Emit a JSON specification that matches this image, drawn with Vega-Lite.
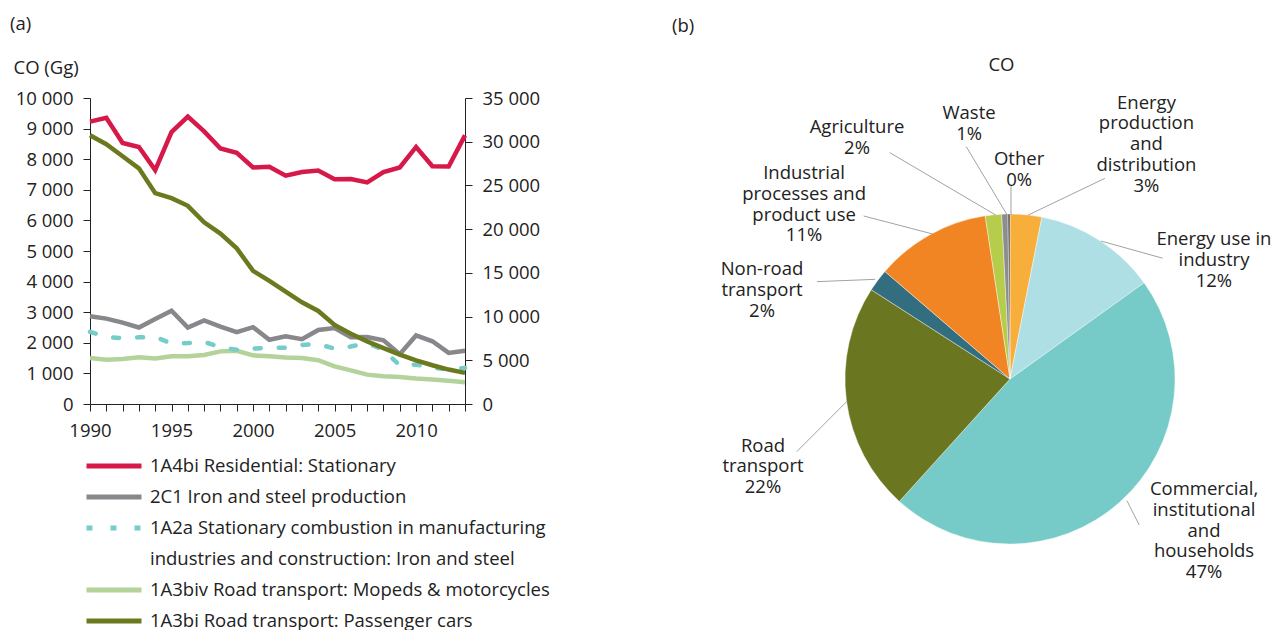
{
  "$schema": "https://vega.github.io/schema/vega-lite/v6.json",
  "background": "white",
  "padding": {"left": 10, "top": 14, "right": 0, "bottom": 0},
  "config": {
    "view": {"stroke": null},
    "font": "Open Sans",
    "axis": {"labelFont": "Open Sans", "labelFontSize": 18.5, "labelColor": "#222", "domainColor": "#222", "tickColor": "#222", "grid": false, "labelFlush": false, "labelOverlap": false, "tickSize": 7, "domainWidth": 1, "tickWidth": 1},
    "title": {"font": "Open Sans", "fontSize": 18.5, "fontWeight": "normal", "color": "#222"},
    "text": {"font": "Open Sans", "fontSize": 18.5, "color": "#222"}
  },
  "bounds": "flush",
  "spacing": 235,
  "resolve": {"scale": {"color": "independent"}, "legend": {"color": "independent"}},
  "hconcat": [
    {
      "width": 375,
      "height": 306,
      "title": {"text": "(a)", "anchor": "start", "frame": "group", "dx": -80, "offset": 25},
      "data": {"values": [
        {"year": 1990, "1A4bi Residential: Stationary": 32300, "2C1 Iron and steel production": 2870, "1A2a Stationary combustion in manufacturing industries and construction: Iron and steel": 2360, "1A3biv Road transport: Mopeds & motorcycles": 1500, "1A3bi Road transport: Passenger cars": 30730},
        {"year": 1991, "1A4bi Residential: Stationary": 32730, "2C1 Iron and steel production": 2790, "1A2a Stationary combustion in manufacturing industries and construction: Iron and steel": 2190, "1A3biv Road transport: Mopeds & motorcycles": 1450, "1A3bi Road transport: Passenger cars": 29710},
        {"year": 1992, "1A4bi Residential: Stationary": 29860, "2C1 Iron and steel production": 2660, "1A2a Stationary combustion in manufacturing industries and construction: Iron and steel": 2150, "1A3biv Road transport: Mopeds & motorcycles": 1470, "1A3bi Road transport: Passenger cars": 28340},
        {"year": 1993, "1A4bi Residential: Stationary": 29400, "2C1 Iron and steel production": 2500, "1A2a Stationary combustion in manufacturing industries and construction: Iron and steel": 2180, "1A3biv Road transport: Mopeds & motorcycles": 1530, "1A3bi Road transport: Passenger cars": 26950},
        {"year": 1994, "1A4bi Residential: Stationary": 26750, "2C1 Iron and steel production": 2780, "1A2a Stationary combustion in manufacturing industries and construction: Iron and steel": 2190, "1A3biv Road transport: Mopeds & motorcycles": 1490, "1A3bi Road transport: Passenger cars": 24110},
        {"year": 1995, "1A4bi Residential: Stationary": 31100, "2C1 Iron and steel production": 3050, "1A2a Stationary combustion in manufacturing industries and construction: Iron and steel": 1980, "1A3biv Road transport: Mopeds & motorcycles": 1560, "1A3bi Road transport: Passenger cars": 23540},
        {"year": 1996, "1A4bi Residential: Stationary": 32880, "2C1 Iron and steel production": 2500, "1A2a Stationary combustion in manufacturing industries and construction: Iron and steel": 1990, "1A3biv Road transport: Mopeds & motorcycles": 1560, "1A3bi Road transport: Passenger cars": 22670},
        {"year": 1997, "1A4bi Residential: Stationary": 31180, "2C1 Iron and steel production": 2730, "1A2a Stationary combustion in manufacturing industries and construction: Iron and steel": 2030, "1A3biv Road transport: Mopeds & motorcycles": 1600, "1A3bi Road transport: Passenger cars": 20780},
        {"year": 1998, "1A4bi Residential: Stationary": 29220, "2C1 Iron and steel production": 2530, "1A2a Stationary combustion in manufacturing industries and construction: Iron and steel": 1860, "1A3biv Road transport: Mopeds & motorcycles": 1720, "1A3bi Road transport: Passenger cars": 19490},
        {"year": 1999, "1A4bi Residential: Stationary": 28720, "2C1 Iron and steel production": 2350, "1A2a Stationary combustion in manufacturing industries and construction: Iron and steel": 1770, "1A3biv Road transport: Mopeds & motorcycles": 1740, "1A3bi Road transport: Passenger cars": 17800},
        {"year": 2000, "1A4bi Residential: Stationary": 27060, "2C1 Iron and steel production": 2510, "1A2a Stationary combustion in manufacturing industries and construction: Iron and steel": 1810, "1A3biv Road transport: Mopeds & motorcycles": 1590, "1A3bi Road transport: Passenger cars": 15230},
        {"year": 2001, "1A4bi Residential: Stationary": 27130, "2C1 Iron and steel production": 2100, "1A2a Stationary combustion in manufacturing industries and construction: Iron and steel": 1840, "1A3biv Road transport: Mopeds & motorcycles": 1560, "1A3bi Road transport: Passenger cars": 14090},
        {"year": 2002, "1A4bi Residential: Stationary": 26110, "2C1 Iron and steel production": 2210, "1A2a Stationary combustion in manufacturing industries and construction: Iron and steel": 1840, "1A3biv Road transport: Mopeds & motorcycles": 1520, "1A3bi Road transport: Passenger cars": 12840},
        {"year": 2003, "1A4bi Residential: Stationary": 26530, "2C1 Iron and steel production": 2120, "1A2a Stationary combustion in manufacturing industries and construction: Iron and steel": 1930, "1A3biv Road transport: Mopeds & motorcycles": 1500, "1A3bi Road transport: Passenger cars": 11630},
        {"year": 2004, "1A4bi Residential: Stationary": 26710, "2C1 Iron and steel production": 2420, "1A2a Stationary combustion in manufacturing industries and construction: Iron and steel": 1960, "1A3biv Road transport: Mopeds & motorcycles": 1430, "1A3bi Road transport: Passenger cars": 10640},
        {"year": 2005, "1A4bi Residential: Stationary": 25700, "2C1 Iron and steel production": 2480, "1A2a Stationary combustion in manufacturing industries and construction: Iron and steel": 1810, "1A3biv Road transport: Mopeds & motorcycles": 1230, "1A3bi Road transport: Passenger cars": 9050},
        {"year": 2006, "1A4bi Residential: Stationary": 25730, "2C1 Iron and steel production": 2180, "1A2a Stationary combustion in manufacturing industries and construction: Iron and steel": 1880, "1A3biv Road transport: Mopeds & motorcycles": 1100, "1A3bi Road transport: Passenger cars": 8030},
        {"year": 2007, "1A4bi Residential: Stationary": 25350, "2C1 Iron and steel production": 2190, "1A2a Stationary combustion in manufacturing industries and construction: Iron and steel": 1990, "1A3biv Road transport: Mopeds & motorcycles": 960, "1A3bi Road transport: Passenger cars": 7160},
        {"year": 2008, "1A4bi Residential: Stationary": 26530, "2C1 Iron and steel production": 2080, "1A2a Stationary combustion in manufacturing industries and construction: Iron and steel": 1770, "1A3biv Road transport: Mopeds & motorcycles": 910, "1A3bi Road transport: Passenger cars": 6400},
        {"year": 2009, "1A4bi Residential: Stationary": 27060, "2C1 Iron and steel production": 1630, "1A2a Stationary combustion in manufacturing industries and construction: Iron and steel": 1260, "1A3biv Road transport: Mopeds & motorcycles": 880, "1A3bi Road transport: Passenger cars": 5640},
        {"year": 2010, "1A4bi Residential: Stationary": 29400, "2C1 Iron and steel production": 2240, "1A2a Stationary combustion in manufacturing industries and construction: Iron and steel": 1290, "1A3biv Road transport: Mopeds & motorcycles": 830, "1A3bi Road transport: Passenger cars": 5000},
        {"year": 2011, "1A4bi Residential: Stationary": 27200, "2C1 Iron and steel production": 2050, "1A2a Stationary combustion in manufacturing industries and construction: Iron and steel": 1180, "1A3biv Road transport: Mopeds & motorcycles": 800, "1A3bi Road transport: Passenger cars": 4430},
        {"year": 2012, "1A4bi Residential: Stationary": 27170, "2C1 Iron and steel production": 1670, "1A2a Stationary combustion in manufacturing industries and construction: Iron and steel": 1130, "1A3biv Road transport: Mopeds & motorcycles": 760, "1A3bi Road transport: Passenger cars": 3940},
        {"year": 2013, "1A4bi Residential: Stationary": 30730, "2C1 Iron and steel production": 1740, "1A2a Stationary combustion in manufacturing industries and construction: Iron and steel": 1180, "1A3biv Road transport: Mopeds & motorcycles": 710, "1A3bi Road transport: Passenger cars": 3560}
      ]},
      "transform": [
        {"fold": ["1A4bi Residential: Stationary", "2C1 Iron and steel production", "1A2a Stationary combustion in manufacturing industries and construction: Iron and steel", "1A3biv Road transport: Mopeds & motorcycles", "1A3bi Road transport: Passenger cars"], "as": ["series", "value"]}
      ],
      "encoding": {
        "x": {"field": "year", "type": "quantitative",
              "scale": {"domain": [1990, 2013], "nice": false, "zero": false},
              "axis": {"title": null, "values": [1990,1991,1992,1993,1994,1995,1996,1997,1998,1999,2000,2001,2002,2003,2004,2005,2006,2007,2008,2009,2010,2011,2012,2013],
                       "labelExpr": "datum.value % 5 === 0 ? format(datum.value, 'd') : ''", "labelPadding": 10}},
        "color": {"field": "series", "type": "nominal",
                  "scale": {"domain": ["1A4bi Residential: Stationary", "2C1 Iron and steel production", "1A2a Stationary combustion in manufacturing industries and construction: Iron and steel", "1A3biv Road transport: Mopeds & motorcycles", "1A3bi Road transport: Passenger cars"],
                            "range": ["#D7194A", "#87878C", "#76CCC8", "#B3D39A", "#6B7A1F"]},
                  "legend": {"title": null, "orient": "none", "legendX": -6, "legendY": 358, "direction": "vertical", "clipHeight": 20,
                             "values": ["1A4bi Residential: Stationary", "2C1 Iron and steel production", "1A2a Stationary combustion in manufacturing industries and construction: Iron and steel", "industries and construction: Iron and steel", "1A3biv Road transport: Mopeds & motorcycles", "1A3bi Road transport: Passenger cars"],
                             "symbolType": "stroke", "symbolSize": 3025, "symbolStrokeWidth": 5,
                             "labelFont": "Open Sans", "labelFontSize": 18.5, "labelColor": "#222", "labelOffset": 6, "rowPadding": 11, "labelLimit": 0,
                             "labelExpr": "datum.label == '1A2a Stationary combustion in manufacturing industries and construction: Iron and steel' ? '1A2a Stationary combustion in manufacturing' : datum.label",
                             "encode": {"symbols": {"update": {
                               "strokeDash": {"signal": "datum.value == '1A2a Stationary combustion in manufacturing industries and construction: Iron and steel' ? [6, 18] : [1, 0]"},
                               "opacity": {"signal": "datum.value == 'industries and construction: Iron and steel' ? 0 : 1"}}}}}}
      },
      "layer": [
        {
          "encoding": {
            "y": {"field": "value", "type": "quantitative",
                  "scale": {"domain": [0, 10000], "nice": false},
                  "axis": {"orient": "left", "title": "CO (Gg)", "titleAngle": 0, "titleAlign": "left", "titleBaseline": "middle", "titleX": -77, "titleY": -31,
                           "titleFont": "Open Sans", "titleFontSize": 18.5, "titleFontWeight": "normal", "titleColor": "#222",
                           "values": [0,1000,2000,3000,4000,5000,6000,7000,8000,9000,10000],
                           "labelExpr": "replace(format(datum.value, ','), ',', ' ')", "labelPadding": 10}}
          },
          "layer": [
            {"transform": [{"filter": {"field": "series", "oneOf": ["2C1 Iron and steel production", "1A3biv Road transport: Mopeds & motorcycles"]}}],
             "mark": {"type": "line", "strokeWidth": 4.5}},
            {"transform": [{"filter": {"field": "series", "equal": "1A2a Stationary combustion in manufacturing industries and construction: Iron and steel"}}],
             "mark": {"type": "line", "strokeWidth": 4.5, "strokeCap": "round", "strokeDash": [6, 18]}}
          ]
        },
        {
          "transform": [{"filter": {"field": "series", "oneOf": ["1A4bi Residential: Stationary", "1A3bi Road transport: Passenger cars"]}}],
          "mark": {"type": "line", "strokeWidth": 4.5},
          "encoding": {
            "y": {"field": "value", "type": "quantitative",
                  "scale": {"domain": [0, 35000], "nice": false},
                  "axis": {"orient": "right", "title": null,
                           "values": [0,5000,10000,15000,20000,25000,30000,35000],
                           "labelExpr": "replace(format(datum.value, ','), ',', ' ')", "labelPadding": 10}}
          }
        }
      ],
      "resolve": {"scale": {"y": "independent"}}
    },
    {
      "width": 570,
      "height": 503,
      "title": {"text": "(b)", "anchor": "start", "frame": "group", "dx": -28, "offset": 21},
      "layer": [
        {
          "data": {"values": [
            {"sector": "Energy production and distribution", "share": 3.1, "idx": 1},
            {"sector": "Energy use in industry", "share": 12.0, "idx": 2},
            {"sector": "Commercial, institutional and households", "share": 46.6, "idx": 3},
            {"sector": "Road transport", "share": 22.4, "idx": 4},
            {"sector": "Non-road transport", "share": 2.2, "idx": 5},
            {"sector": "Industrial processes and product use", "share": 11.3, "idx": 6},
            {"sector": "Agriculture", "share": 1.6, "idx": 7},
            {"sector": "Waste", "share": 0.6, "idx": 8},
            {"sector": "Other", "share": 0.2, "idx": 9}
          ]},
          "mark": {"type": "arc", "outerRadius": 165, "stroke": "white", "strokeWidth": 0.4},
          "encoding": {
            "theta": {"field": "share", "type": "quantitative", "stack": true},
            "order": {"field": "idx", "type": "quantitative"},
            "color": {"field": "sector", "type": "nominal", "legend": null,
                      "scale": {"domain": ["Energy production and distribution", "Energy use in industry", "Commercial, institutional and households", "Road transport", "Non-road transport", "Industrial processes and product use", "Agriculture", "Waste", "Other"],
                                "range": ["#F8AE3A", "#AEDFE5", "#76CBC8", "#6B7621", "#336E80", "#F28523", "#B5CD4B", "#8D8D8F", "#555555"]}},
            "x": {"datum": 0, "type": "quantitative", "scale": {"domain": [-1.8788, 1.5758], "nice": false, "zero": false}, "axis": null},
            "y": {"datum": 0, "type": "quantitative", "scale": {"domain": [-1.3455, 1.703], "nice": false, "zero": false}, "axis": null}
          }
        },
        {
          "data": {"name": "pielabels", "values": [
            {"label": "Energy\nproduction\nand\ndistribution\n3%", "lx": 0.827, "ly": 1.675, "ix": 0.111, "iy": 0.994, "ox": 0.575, "oy": 1.216},
            {"label": "Energy use in\nindustry\n12%", "lx": 1.236, "ly": 0.848, "ix": 0.552, "iy": 0.836, "ox": 0.925, "oy": 0.732},
            {"label": "Commercial,\ninstitutional\nand\nhouseholds\n47%", "lx": 1.176, "ly": -0.667, "ix": 0.709, "iy": -0.738, "ox": 0.783, "oy": -0.885},
            {"label": "Road\ntransport\n22%", "lx": -1.497, "ly": -0.404, "ix": -0.991, "iy": -0.138, "ox": -1.293, "oy": -0.441},
            {"label": "Non-road\ntransport\n2%", "lx": -1.503, "ly": 0.667, "ix": -0.817, "iy": 0.604, "ox": -1.17, "oy": 0.59},
            {"label": "Industrial\nprocesses and\nproduct use\n11%", "lx": -1.248, "ly": 1.248, "ix": -0.469, "iy": 0.879, "ox": -0.887, "oy": 0.988},
            {"label": "Agriculture\n2%", "lx": -0.927, "ly": 1.529, "ix": -0.087, "iy": 0.994, "ox": -0.729, "oy": 1.372},
            {"label": "Waste\n1%", "lx": -0.248, "ly": 1.612, "ix": -0.017, "iy": 0.994, "ox": -0.265, "oy": 1.408},
            {"label": "Other\n0%", "lx": 0.055, "ly": 1.333, "ix": 0.006, "iy": 0.994, "ox": 0.006, "oy": 1.176}
          ]},
          "mark": {"type": "rule", "color": "#8A8A8A", "strokeWidth": 0.8},
          "encoding": {
            "x": {"field": "ix", "type": "quantitative"},
            "y": {"field": "iy", "type": "quantitative"},
            "x2": {"field": "ox"},
            "y2": {"field": "oy"}
          }
        },
        {
          "data": {"name": "pielabels"},
          "mark": {"type": "text", "lineBreak": "\n", "align": "center", "baseline": "middle", "lineHeight": 20.8},
          "encoding": {
            "x": {"field": "lx", "type": "quantitative"},
            "y": {"field": "ly", "type": "quantitative"},
            "text": {"field": "label", "type": "nominal"}
          }
        },
        {
          "data": {"values": [{"t": "CO", "u": -0.052, "v": 1.9}]},
          "mark": {"type": "text", "align": "center", "baseline": "middle"},
          "encoding": {
            "x": {"field": "u", "type": "quantitative"},
            "y": {"field": "v", "type": "quantitative"},
            "text": {"field": "t", "type": "nominal"}
          }
        }
      ]
    }
  ]
}
